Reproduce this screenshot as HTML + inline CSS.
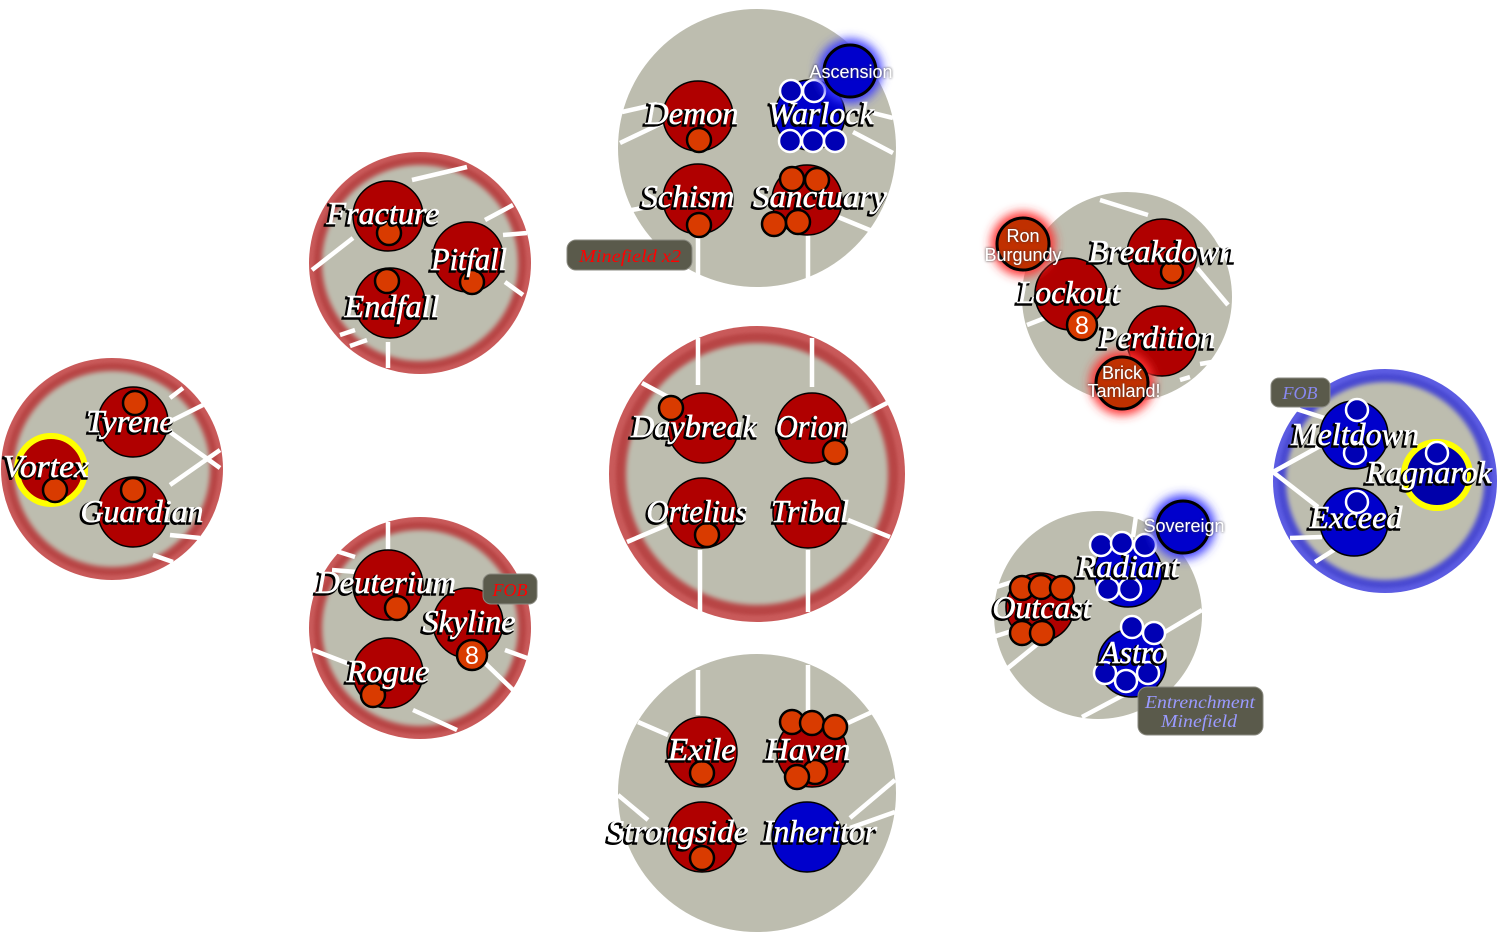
<!DOCTYPE html>
<html><head><meta charset="utf-8">
<style>
html,body{margin:0;padding:0;background:#fff;}
svg{display:block}
.L{font-family:"Liberation Serif",serif;font-style:italic;font-size:32px;text-anchor:middle}
.S{fill:#000;stroke:#000;stroke-width:2.4px}
.W{fill:#fff;stroke:#fff;stroke-width:0.5px}
.sm{font-family:"Liberation Sans",sans-serif;font-size:18px;text-anchor:middle;fill:#fff}
.bx{font-family:"Liberation Serif",serif;font-style:italic;font-size:18px;text-anchor:middle}
.r{fill:#b00000;stroke:#000;stroke-width:1.5}
.b{fill:#0000cc;stroke:#000;stroke-width:1.5}
.o{fill:#d93b00;stroke:#000;stroke-width:2.5}
.bs{fill:#0000b4;stroke:#fff;stroke-width:2.5}
.wl{stroke:#fff;stroke-width:4.5}
.g{fill:#bdbdaf}
.n8{font-family:"Liberation Sans",sans-serif;font-size:25px;text-anchor:middle;fill:#fff}
</style></head>
<body>
<svg width="1497" height="942" viewBox="0 0 1497 942" xmlns="http://www.w3.org/2000/svg">
<defs>
<filter id="bl1" x="-20%" y="-20%" width="140%" height="140%"><feGaussianBlur stdDeviation="1.5"/></filter>
<filter id="bl2" x="-20%" y="-20%" width="140%" height="140%"><feGaussianBlur stdDeviation="2.5"/></filter>
<filter id="glow" x="-100%" y="-100%" width="300%" height="300%"><feGaussianBlur stdDeviation="5"/></filter>
<filter id="tsh" x="-20%" y="-50%" width="140%" height="200%"><feDropShadow dx="0" dy="0" stdDeviation="1.3" flood-color="#333" flood-opacity="1"/></filter>
</defs>
<rect width="1497" height="942" fill="#fff"/>

<circle cx="757" cy="148" r="139" class="g"/>
<circle cx="757" cy="793" r="139" class="g"/>
<circle cx="1127" cy="297" r="105" class="g"/>
<circle cx="1098" cy="615" r="104" class="g"/>

<g>
<circle cx="420" cy="263" r="111" fill="#c95a5a"/>
<circle cx="420" cy="263" r="106" fill="#b84545" filter="url(#bl1)"/>
<circle cx="420" cy="263" r="98" fill="#bdbdaf" filter="url(#bl2)"/>
</g>
<g>
<circle cx="112" cy="469" r="111" fill="#c95a5a"/>
<circle cx="112" cy="469" r="106" fill="#b84545" filter="url(#bl1)"/>
<circle cx="112" cy="469" r="98" fill="#bdbdaf" filter="url(#bl2)"/>
</g>
<g>
<circle cx="420" cy="628" r="111" fill="#c95a5a"/>
<circle cx="420" cy="628" r="106" fill="#b84545" filter="url(#bl1)"/>
<circle cx="420" cy="628" r="98" fill="#bdbdaf" filter="url(#bl2)"/>
</g>
<g>
<circle cx="757" cy="474" r="148" fill="#c95a5a"/>
<circle cx="757" cy="474" r="141" fill="#b84545" filter="url(#bl1)"/>
<circle cx="757" cy="474" r="131" fill="#bdbdaf" filter="url(#bl2)"/>
</g>
<g>
<circle cx="1385" cy="481" r="112" fill="#5c5ce2"/>
<circle cx="1385" cy="481" r="107" fill="#4a4ad2" filter="url(#bl1)"/>
<circle cx="1385" cy="481" r="99" fill="#bdbdaf" filter="url(#bl2)"/>
</g>

<g class="wl">
<line x1="622" y1="112" x2="657" y2="104"/>
<line x1="620" y1="143" x2="662" y2="123"/>
<line x1="622" y1="212" x2="662" y2="204"/>
<line x1="873" y1="113" x2="893" y2="118"/>
<line x1="853" y1="132" x2="893" y2="153"/>
<line x1="838" y1="217" x2="872" y2="231"/>
<line x1="808" y1="233" x2="808" y2="278"/>
<line x1="698" y1="233" x2="698" y2="278"/>

<line x1="412" y1="180" x2="467" y2="167"/>
<line x1="485" y1="220" x2="513" y2="205"/>
<line x1="503" y1="235" x2="527" y2="233"/>
<line x1="505" y1="282" x2="523" y2="295"/>
<line x1="353" y1="238" x2="312" y2="270"/>
<line x1="340" y1="335" x2="355" y2="330"/>
<line x1="350" y1="346" x2="367" y2="340"/>
<line x1="388" y1="342" x2="388" y2="368"/>

<line x1="170" y1="398" x2="183" y2="388"/>
<line x1="173" y1="420" x2="203" y2="405"/>
<line x1="170" y1="432" x2="220" y2="468"/>
<line x1="170" y1="485" x2="220" y2="450"/>
<line x1="170" y1="535" x2="200" y2="538"/>
<line x1="153" y1="555" x2="173" y2="562"/>

<line x1="698" y1="338" x2="698" y2="385"/>
<line x1="812" y1="338" x2="812" y2="387"/>
<line x1="642" y1="383" x2="668" y2="397"/>
<line x1="850" y1="422" x2="887" y2="403"/>
<line x1="848" y1="520" x2="890" y2="537"/>
<line x1="627" y1="542" x2="667" y2="525"/>
<line x1="700" y1="550" x2="700" y2="612"/>
<line x1="808" y1="550" x2="808" y2="612"/>

<line x1="1100" y1="200" x2="1148" y2="215"/>
<line x1="1197" y1="268" x2="1228" y2="305"/>
<line x1="1027" y1="325" x2="1045" y2="318"/>
<line x1="1180" y1="380" x2="1190" y2="377"/>
<line x1="1200" y1="364" x2="1212" y2="362"/>

<line x1="1293" y1="408" x2="1337" y2="422"/>
<line x1="1273" y1="472" x2="1322" y2="445"/>
<line x1="1273" y1="472" x2="1318" y2="507"/>
<line x1="1290" y1="538" x2="1322" y2="537"/>
<line x1="1315" y1="562" x2="1337" y2="548"/>

<line x1="388" y1="522" x2="388" y2="550"/>
<line x1="333" y1="550" x2="355" y2="557"/>
<line x1="332" y1="570" x2="357" y2="572"/>
<line x1="313" y1="650" x2="357" y2="667"/>
<line x1="505" y1="650" x2="527" y2="658"/>
<line x1="485" y1="663" x2="513" y2="690"/>
<line x1="413" y1="710" x2="457" y2="730"/>

<line x1="698" y1="670" x2="698" y2="715"/>
<line x1="808" y1="665" x2="808" y2="712"/>
<line x1="638" y1="722" x2="668" y2="735"/>
<line x1="848" y1="723" x2="872" y2="712"/>
<line x1="618" y1="795" x2="648" y2="820"/>
<line x1="850" y1="818" x2="895" y2="780"/>
<line x1="850" y1="828" x2="895" y2="812"/>

<line x1="993" y1="588" x2="1012" y2="582"/>
<line x1="993" y1="637" x2="1015" y2="630"/>
<line x1="1008" y1="668" x2="1040" y2="642"/>
<line x1="1165" y1="632" x2="1202" y2="610"/>
<line x1="1082" y1="717" x2="1133" y2="690"/>
<line x1="1136" y1="516" x2="1133" y2="537"/>
</g>

<rect x="567" y="240" width="125" height="30" rx="9" fill="#5a5a4b" stroke="#8a8a80" stroke-width="1"/>
<text class="bx" x="630" y="262" fill="#ff0000" textLength="102" lengthAdjust="spacingAndGlyphs">Minefield x2</text>

<circle cx="698" cy="116" r="35" class="r"/>
<circle cx="699" cy="140" r="12" class="o"/>
<circle cx="698" cy="199" r="35" class="r"/>
<circle cx="699" cy="225" r="12" class="o"/>
<circle cx="807" cy="200" r="35" class="r"/>
<circle cx="792" cy="179" r="12" class="o"/>
<circle cx="817" cy="180" r="12" class="o"/>
<circle cx="774" cy="224" r="12" class="o"/>
<circle cx="798" cy="222" r="12" class="o"/>
<circle cx="810" cy="115" r="35" class="b"/>
<circle cx="791" cy="91" r="11" class="bs"/>
<circle cx="814" cy="91" r="11" class="bs"/>
<circle cx="790" cy="141" r="11" class="bs"/>
<circle cx="813" cy="141" r="11" class="bs"/>
<circle cx="835" cy="141" r="11" class="bs"/>
<circle cx="850" cy="71" r="32" fill="#3a3aff" filter="url(#glow)"/>
<circle cx="850" cy="71" r="26" fill="#0000cc" stroke="#000" stroke-width="3"/>

<circle cx="388" cy="216" r="35" class="r"/>
<circle cx="389" cy="233" r="12" class="o"/>
<circle cx="468" cy="257" r="35" class="r"/>
<circle cx="472" cy="282" r="12" class="o"/>
<circle cx="390" cy="303" r="35" class="r"/>
<circle cx="387" cy="281" r="12" class="o"/>

<circle cx="133" cy="422" r="35" class="r"/>
<circle cx="135" cy="403" r="12" class="o"/>
<circle cx="51" cy="470" r="34" fill="#b00000" stroke="#ffff00" stroke-width="6"/>
<circle cx="55" cy="490" r="12" class="o"/>
<circle cx="133" cy="512" r="35" class="r"/>
<circle cx="133" cy="490" r="12" class="o"/>

<circle cx="703" cy="428" r="35" class="r"/>
<circle cx="671" cy="408" r="12" class="o"/>
<circle cx="812" cy="428" r="35" class="r"/>
<circle cx="835" cy="452" r="12" class="o"/>
<circle cx="702" cy="513" r="35" class="r"/>
<circle cx="707" cy="535" r="12" class="o"/>
<circle cx="808" cy="513" r="35" class="r"/>

<circle cx="1162" cy="254" r="35" class="r"/>
<circle cx="1172" cy="272" r="11" class="o"/>
<circle cx="1071" cy="294" r="36" class="r"/>
<circle cx="1082" cy="325" r="15" class="o"/>
<text class="n8" x="1082" y="334">8</text>
<circle cx="1162" cy="341" r="35" class="r"/>
<circle cx="1023" cy="244" r="32" fill="#ff3030" filter="url(#glow)"/>
<circle cx="1023" cy="244" r="26" fill="#c03000" stroke="#000" stroke-width="3"/>
<circle cx="1122" cy="383" r="32" fill="#ff3030" filter="url(#glow)"/>
<circle cx="1122" cy="383" r="26" fill="#c03000" stroke="#000" stroke-width="3"/>

<circle cx="1354" cy="435" r="34" class="b"/>
<circle cx="1357" cy="410" r="11" class="bs"/>
<circle cx="1355" cy="453" r="11" class="bs"/>
<circle cx="1437" cy="475" r="33" fill="#0000aa" stroke="#ffff00" stroke-width="6"/>
<circle cx="1437" cy="453" r="11" class="bs"/>
<circle cx="1354" cy="522" r="34" class="b"/>
<circle cx="1357" cy="502" r="11" class="bs"/>
<rect x="1271" y="378" width="59" height="29" rx="8" fill="#5a5a4b" stroke="#8a8a80" stroke-width="1"/>
<text class="bx" x="1300" y="399" fill="#8888ee">FOB</text>

<circle cx="388" cy="585" r="35" class="r"/>
<circle cx="397" cy="608" r="12" class="o"/>
<circle cx="468" cy="623" r="35" class="r"/>
<circle cx="472" cy="655" r="15" class="o"/>
<text class="n8" x="472" y="664">8</text>
<circle cx="388" cy="673" r="35" class="r"/>
<circle cx="373" cy="695" r="12" class="o"/>
<rect x="483" y="574" width="54" height="30" rx="8" fill="#5a5a4b" stroke="#8a8a80" stroke-width="1"/>
<text class="bx" x="510" y="596" fill="#ff0000">FOB</text>

<circle cx="702" cy="752" r="35" class="r"/>
<circle cx="702" cy="773" r="12" class="o"/>
<circle cx="812" cy="752" r="35" class="r"/>
<circle cx="792" cy="722" r="12" class="o"/>
<circle cx="812" cy="723" r="12" class="o"/>
<circle cx="835" cy="727" r="12" class="o"/>
<circle cx="815" cy="772" r="12" class="o"/>
<circle cx="797" cy="777" r="12" class="o"/>
<circle cx="702" cy="837" r="35" class="r"/>
<circle cx="702" cy="858" r="12" class="o"/>
<circle cx="807" cy="837" r="35" class="b"/>

<circle cx="1040" cy="607" r="34" class="r"/>
<circle cx="1022" cy="588" r="12" class="o"/>
<circle cx="1041" cy="587" r="12" class="o"/>
<circle cx="1062" cy="588" r="12" class="o"/>
<circle cx="1022" cy="633" r="12" class="o"/>
<circle cx="1042" cy="633" r="12" class="o"/>
<circle cx="1128" cy="573" r="34" class="b"/>
<circle cx="1101" cy="545" r="11" class="bs"/>
<circle cx="1122" cy="543" r="11" class="bs"/>
<circle cx="1145" cy="545" r="11" class="bs"/>
<circle cx="1108" cy="589" r="11" class="bs"/>
<circle cx="1130" cy="589" r="11" class="bs"/>
<circle cx="1132" cy="663" r="34" class="b"/>
<circle cx="1132" cy="627" r="11" class="bs"/>
<circle cx="1154" cy="633" r="11" class="bs"/>
<circle cx="1105" cy="673" r="11" class="bs"/>
<circle cx="1148" cy="673" r="11" class="bs"/>
<circle cx="1126" cy="681" r="11" class="bs"/>
<circle cx="1183" cy="527" r="32" fill="#3a3aff" filter="url(#glow)"/>
<circle cx="1183" cy="527" r="26" fill="#0000cc" stroke="#000" stroke-width="3"/>
<rect x="1138" y="687" width="125" height="48" rx="9" fill="#5a5a4b" stroke="#8a8a80" stroke-width="1"/>
<text class="bx" x="1200" y="708" fill="#9a9aff" textLength="110" lengthAdjust="spacingAndGlyphs">Entrenchment</text>
<text class="bx" x="1199" y="727" fill="#9a9aff" textLength="76" lengthAdjust="spacingAndGlyphs">Minefield</text>

<g filter="url(#tsh)">
<text class="sm" x="851" y="78">Ascension</text>
<text class="sm" x="1184" y="532">Sovereign</text>
<text class="sm" x="1023" y="242">Ron</text>
<text class="sm" x="1023" y="261">Burgundy</text>
<text class="sm" x="1122" y="379">Brick</text>
<text class="sm" x="1124" y="397">Tamland!</text>
</g>

<g class="L S" transform="translate(-1.5,1.5)">
<text x="692" y="124" textLength="93" lengthAdjust="spacingAndGlyphs">Demon</text>
<text x="821" y="124" textLength="106" lengthAdjust="spacingAndGlyphs">Warlock</text>
<text x="688" y="207" textLength="93" lengthAdjust="spacingAndGlyphs">Schism</text>
<text x="820" y="207" textLength="134" lengthAdjust="spacingAndGlyphs">Sanctuary</text>
<text x="383" y="224" textLength="113" lengthAdjust="spacingAndGlyphs">Fracture</text>
<text x="469" y="270" textLength="76" lengthAdjust="spacingAndGlyphs">Pitfall</text>
<text x="392" y="317" textLength="95" lengthAdjust="spacingAndGlyphs">Endfall</text>
<text x="130" y="432" textLength="88" lengthAdjust="spacingAndGlyphs">Tyrene</text>
<text x="46" y="477" textLength="86" lengthAdjust="spacingAndGlyphs">Vortex</text>
<text x="142" y="522" textLength="123" lengthAdjust="spacingAndGlyphs">Guardian</text>
<text x="694" y="437" textLength="126" lengthAdjust="spacingAndGlyphs">Daybreak</text>
<text x="812" y="437" textLength="72" lengthAdjust="spacingAndGlyphs">Orion</text>
<text x="697" y="522" textLength="101" lengthAdjust="spacingAndGlyphs">Ortelius</text>
<text x="810" y="522" textLength="78" lengthAdjust="spacingAndGlyphs">Tribal</text>
<text x="1162" y="262" textLength="147" lengthAdjust="spacingAndGlyphs">Breakdown</text>
<text x="1069" y="303" textLength="103" lengthAdjust="spacingAndGlyphs">Lockout</text>
<text x="1157" y="348" textLength="117" lengthAdjust="spacingAndGlyphs">Perdition</text>
<text x="1355" y="445" textLength="128" lengthAdjust="spacingAndGlyphs">Meltdown</text>
<text x="1429" y="483" textLength="126" lengthAdjust="spacingAndGlyphs">Ragnarok</text>
<text x="1356" y="528" textLength="93" lengthAdjust="spacingAndGlyphs">Exceed</text>
<text x="386" y="593" textLength="140" lengthAdjust="spacingAndGlyphs">Deuterium</text>
<text x="469" y="632" textLength="93" lengthAdjust="spacingAndGlyphs">Skyline</text>
<text x="388" y="682" textLength="83" lengthAdjust="spacingAndGlyphs">Rogue</text>
<text x="702" y="760" textLength="68" lengthAdjust="spacingAndGlyphs">Exile</text>
<text x="808" y="760" textLength="85" lengthAdjust="spacingAndGlyphs">Haven</text>
<text x="678" y="842" textLength="141" lengthAdjust="spacingAndGlyphs">Strongside</text>
<text x="820" y="842" textLength="114" lengthAdjust="spacingAndGlyphs">Inheritor</text>
<text x="1128" y="577" textLength="103" lengthAdjust="spacingAndGlyphs">Radiant</text>
<text x="1042" y="618" textLength="99" lengthAdjust="spacingAndGlyphs">Outcast</text>
<text x="1134" y="663" textLength="67" lengthAdjust="spacingAndGlyphs">Astro</text>
</g>
<g class="L W">
<text x="692" y="124" textLength="93" lengthAdjust="spacingAndGlyphs">Demon</text>
<text x="821" y="124" textLength="106" lengthAdjust="spacingAndGlyphs">Warlock</text>
<text x="688" y="207" textLength="93" lengthAdjust="spacingAndGlyphs">Schism</text>
<text x="820" y="207" textLength="134" lengthAdjust="spacingAndGlyphs">Sanctuary</text>
<text x="383" y="224" textLength="113" lengthAdjust="spacingAndGlyphs">Fracture</text>
<text x="469" y="270" textLength="76" lengthAdjust="spacingAndGlyphs">Pitfall</text>
<text x="392" y="317" textLength="95" lengthAdjust="spacingAndGlyphs">Endfall</text>
<text x="130" y="432" textLength="88" lengthAdjust="spacingAndGlyphs">Tyrene</text>
<text x="46" y="477" textLength="86" lengthAdjust="spacingAndGlyphs">Vortex</text>
<text x="142" y="522" textLength="123" lengthAdjust="spacingAndGlyphs">Guardian</text>
<text x="694" y="437" textLength="126" lengthAdjust="spacingAndGlyphs">Daybreak</text>
<text x="812" y="437" textLength="72" lengthAdjust="spacingAndGlyphs">Orion</text>
<text x="697" y="522" textLength="101" lengthAdjust="spacingAndGlyphs">Ortelius</text>
<text x="810" y="522" textLength="78" lengthAdjust="spacingAndGlyphs">Tribal</text>
<text x="1162" y="262" textLength="147" lengthAdjust="spacingAndGlyphs">Breakdown</text>
<text x="1069" y="303" textLength="103" lengthAdjust="spacingAndGlyphs">Lockout</text>
<text x="1157" y="348" textLength="117" lengthAdjust="spacingAndGlyphs">Perdition</text>
<text x="1355" y="445" textLength="128" lengthAdjust="spacingAndGlyphs">Meltdown</text>
<text x="1429" y="483" textLength="126" lengthAdjust="spacingAndGlyphs">Ragnarok</text>
<text x="1356" y="528" textLength="93" lengthAdjust="spacingAndGlyphs">Exceed</text>
<text x="386" y="593" textLength="140" lengthAdjust="spacingAndGlyphs">Deuterium</text>
<text x="469" y="632" textLength="93" lengthAdjust="spacingAndGlyphs">Skyline</text>
<text x="388" y="682" textLength="83" lengthAdjust="spacingAndGlyphs">Rogue</text>
<text x="702" y="760" textLength="68" lengthAdjust="spacingAndGlyphs">Exile</text>
<text x="808" y="760" textLength="85" lengthAdjust="spacingAndGlyphs">Haven</text>
<text x="678" y="842" textLength="141" lengthAdjust="spacingAndGlyphs">Strongside</text>
<text x="820" y="842" textLength="114" lengthAdjust="spacingAndGlyphs">Inheritor</text>
<text x="1128" y="577" textLength="103" lengthAdjust="spacingAndGlyphs">Radiant</text>
<text x="1042" y="618" textLength="99" lengthAdjust="spacingAndGlyphs">Outcast</text>
<text x="1134" y="663" textLength="67" lengthAdjust="spacingAndGlyphs">Astro</text>
</g>
</svg>
</body></html>
